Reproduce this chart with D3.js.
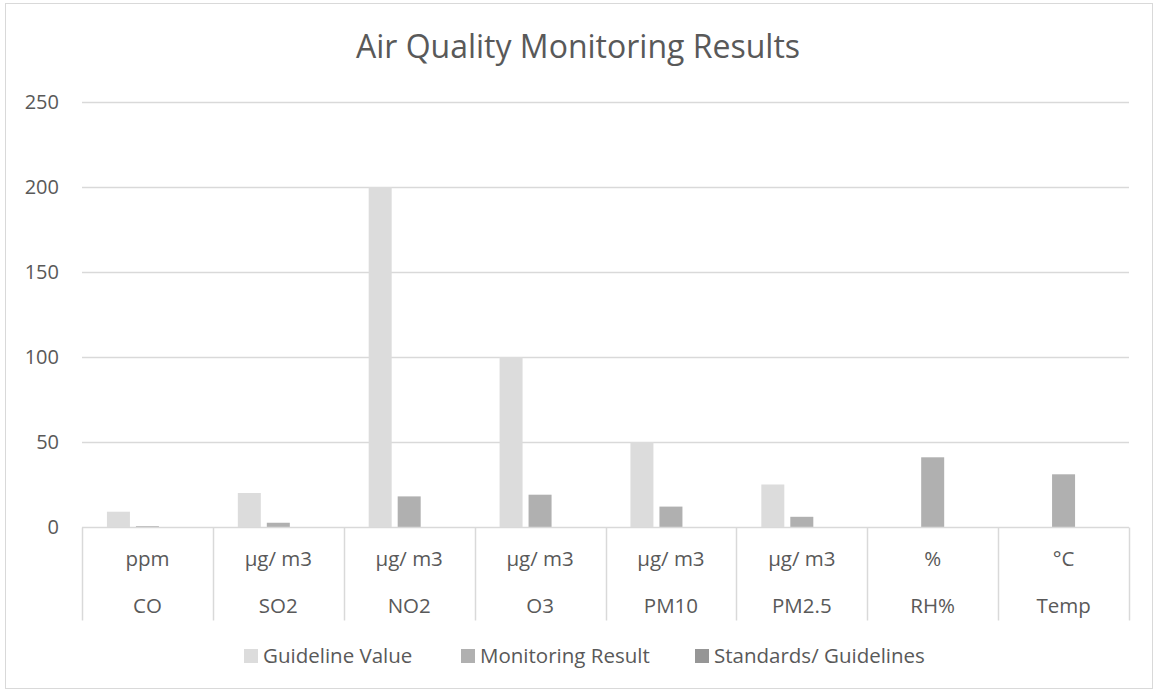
<!DOCTYPE html>
<html>
<head>
<meta charset="utf-8">
<script src="https://cdn.jsdelivr.net/npm/d3@7"></script>
<style>
  body { margin: 0; background: #fff; }
  svg text { font-family: "Open Sans", sans-serif; fill: #595959; }
</style>
</head>
<body>
<div class="chart"></div>
<script>

// chart data
var categories = ["CO", "SO2", "NO2", "O3", "PM10", "PM2.5", "RH%", "Temp"];
var units = ["ppm", "µg/ m3", "µg/ m3", "µg/ m3", "µg/ m3", "µg/ m3", "%", "°C"];
var seriesNames = ["Guideline Value", "Monitoring Result", "Standards/ Guidelines"];
var guidelineValue = [9, 20, 200, 100, 50, 25, 0, 0];
var monitoringResult = [0.5, 2.5, 18, 19, 12, 6, 41, 31];
var standardsGuidelines = [0, 0, 0, 0, 0, 0, 0, 0];
var yTicks = [0, 50, 100, 150, 200, 250];

var colors = ["#dcdcdc", "#b0b0b0", "#969696"];

var width = 1156, height = 691;
var margin = {top: 102, right: 27, bottom: 164, left: 82};
var innerW = width - margin.left - margin.right,
    innerH = height - margin.top - margin.bottom;

var svg = d3.select(".chart").append("svg")
    .attr("width", width)
    .attr("height", height);

// outer chart border
svg.append("rect")
  .attr("x", 5.5).attr("y", 3.5)
  .attr("width", width - 9).attr("height", height - 6)
  .attr("fill", "#fff")
  .attr("stroke", "#d9d9d9")
  .attr("stroke-width", 1);

svg.append("text")
  .attr("x", 578)
  .attr("y", 58)
  .style("text-anchor", "middle")
  .style("font-size", "32px")
  .text("Air Quality Monitoring Results");

var g = svg.append("g")
    .attr("transform", "translate(" + margin.left + "," + margin.top + ")");

var x0 = d3.scaleBand().domain(categories).range([0, innerW]).padding(0);
var clusterW = 81;
var x1 = d3.scaleBand().domain(seriesNames).range([0, clusterW]).paddingInner(6 / 29).paddingOuter(0);
var y = d3.scaleLinear().domain([0, 250]).range([innerH, 0]);

// gridlines
g.selectAll(".grid")
  .data(yTicks.filter(function(d) { return d > 0; }))
  .enter().append("line")
    .attr("x1", 0).attr("x2", innerW)
    .attr("y1", function(d) { return Math.round(y(d)) + 0.5; })
    .attr("y2", function(d) { return Math.round(y(d)) + 0.5; })
    .style("stroke", "#d9d9d9")
    .style("stroke-width", 1.5);

// y axis labels
var yAxis = d3.axisLeft(y).tickValues(yTicks).tickSize(0).tickPadding(23);
var yg = g.append("g").call(yAxis);
yg.select(".domain").remove();
yg.selectAll("text").style("font-size", "20px").style("fill", "#595959").style("font-family", '"Open Sans", sans-serif');

// bars
var series = [guidelineValue, monitoringResult, standardsGuidelines];
series.forEach(function(vals, si) {
  g.selectAll(".bar-" + si)
    .data(vals)
    .enter().append("rect")
      .attr("class", "bar-" + si)
      .attr("x", function(d, i) {
        return x0(categories[i]) + (x0.bandwidth() - clusterW) / 2 + x1(seriesNames[si]);
      })
      .attr("y", function(d) { return y(d); })
      .attr("width", x1.bandwidth())
      .attr("height", function(d) { return innerH - y(d); })
      .style("fill", colors[si]);
});

// category axis with two label rows
var axisY = Math.round(innerH) + 0.5;
g.append("line")
  .attr("x1", 0).attr("x2", innerW)
  .attr("y1", axisY).attr("y2", axisY)
  .style("stroke", "#d9d9d9").style("stroke-width", 1.5);

var seps = categories.map(function(c) { return x0(c); }).concat([innerW]);
g.selectAll(".sep")
  .data(seps)
  .enter().append("line")
    .attr("x1", function(d) { return Math.round(d) + 0.5; })
    .attr("x2", function(d) { return Math.round(d) + 0.5; })
    .attr("y1", axisY).attr("y2", axisY + 93)
    .style("stroke", "#d9d9d9").style("stroke-width", 1.5);

g.selectAll(".unit")
  .data(units)
  .enter().append("text")
    .attr("x", function(d, i) { return x0(categories[i]) + x0.bandwidth() / 2; })
    .attr("y", axisY + 38)
    .style("text-anchor", "middle")
    .style("font-size", "20.5px")
    .text(function(d) { return d; });

g.selectAll(".cat")
  .data(categories)
  .enter().append("text")
    .attr("x", function(d) { return x0(d) + x0.bandwidth() / 2; })
    .attr("y", axisY + 85)
    .style("text-anchor", "middle")
    .style("font-size", "20.5px")
    .text(function(d) { return d; });

// legend
var legendX = [244, 461, 695];
var legend = svg.selectAll(".legend")
  .data(seriesNames)
  .enter().append("g")
    .attr("transform", function(d, i) { return "translate(" + legendX[i] + ",656)"; });

legend.append("rect")
  .attr("x", 0).attr("y", -7)
  .attr("width", 14).attr("height", 14)
  .style("fill", function(d, i) { return colors[i]; });

legend.append("text")
  .attr("x", 19).attr("y", 7)
  .style("font-size", "20.5px")
  .text(function(d) { return d; });

</script>
</body>
</html>
